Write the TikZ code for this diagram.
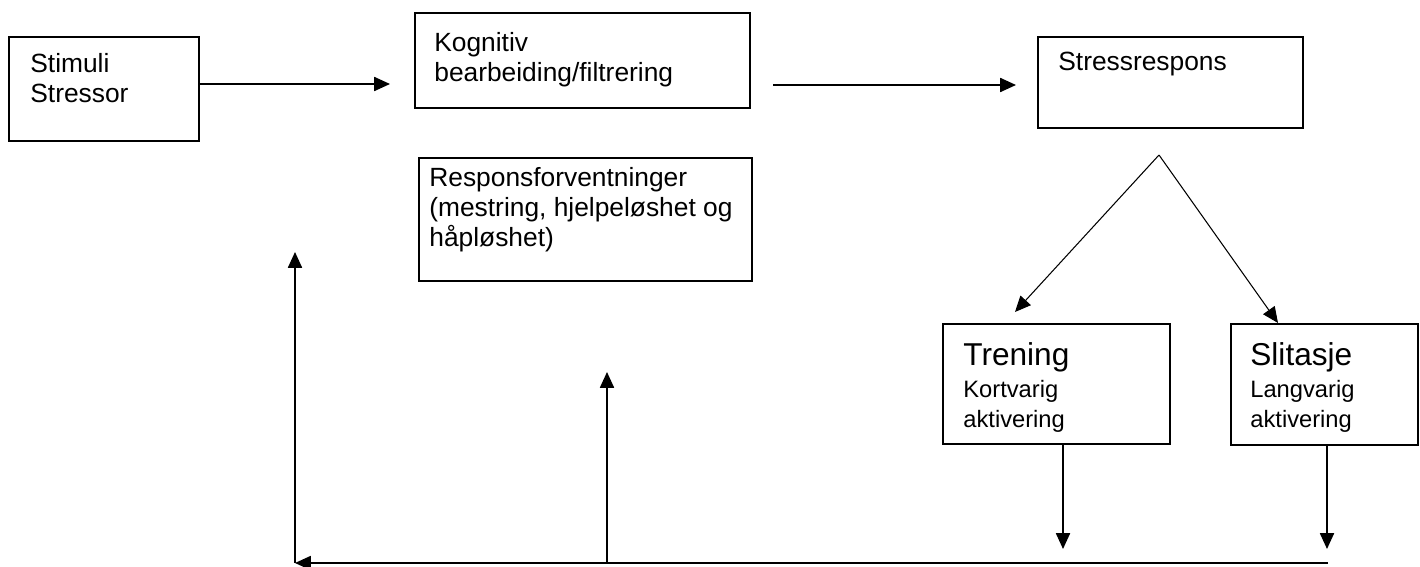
\documentclass[tikz,border=0pt]{standalone}
\usepackage{fontspec}
\setmainfont{Liberation Sans}
\usetikzlibrary{arrows.meta}

\begin{document}
\begin{tikzpicture}[x=0.02cm, y=-0.02cm]
\tikzstyle{box}=[draw, line width=1.2pt, inner sep=0pt]
\tikzstyle{txt}=[anchor=north west, inner sep=0pt, align=left, font=\fontsize{15}{17}\selectfont]
\tikzstyle{pil}=[line width=0.9pt, -{Triangle[length=9pt, width=8pt]}]
\useasboundingbox (0,0) rectangle (1420,567);

% boxes
\node[box, minimum width=3.8cm, minimum height=2.08cm] (stim) at (104,89) {};
\node[box, minimum width=6.7cm, minimum height=1.9cm] (kog) at (582.5,60.5) {};
\node[box, minimum width=5.3cm, minimum height=1.82cm] (stress) at (1170.5,82.5) {};
\node[box, minimum width=6.66cm, minimum height=2.46cm] (resp) at (585.5,219.5) {};
\node[box, minimum width=4.54cm, minimum height=2.4cm] (tren) at (1056.5,384) {};
\node[box, minimum width=3.74cm, minimum height=2.42cm] (slit) at (1324.5,384.5) {};

% texts
\node[txt] (stimtxt) at (30,53) {Stimuli\\Stressor};
\node[txt] (kogtxt) at (434,32) {Kognitiv\\bearbeiding/filtrering};
\node[txt] (stresstxt) at (1058,52) {Stressrespons};
\node[txt] (resptxt) at (429,167) {Responsforventninger\\(mestring, hjelpeløshet og\\håpløshet)};
\node[txt] (trentxt) at (963,342) {\fontsize{18}{21}\selectfont Trening\\[1.5pt]\fontsize{13.5}{15.5}\selectfont Kortvarig\\\fontsize{13.5}{15.5}\selectfont aktivering};
\node[txt] (slittxt) at (1250,342) {\fontsize{18}{21}\selectfont Slitasje\\[1.5pt]\fontsize{13.5}{15.5}\selectfont Langvarig\\\fontsize{13.5}{15.5}\selectfont aktivering};

% free ends
\coordinate (k1) at (390,84);
\coordinate (k2a) at (773,85);
\coordinate (k2b) at (1016,85);
\coordinate (top) at (1159,155);
\coordinate (tl) at (1015,312);
\coordinate (tr) at (1278,323);
\coordinate (d1) at (1063,549);
\coordinate (d2) at (1327,549);
\coordinate (br) at (1328,563);
\coordinate (bl) at (295,563);
\coordinate (bm) at (607,563);
\coordinate (u1) at (295,252);
\coordinate (u2) at (607,372);

\draw[pil] (stim.east |- k1) -- (k1);
\draw[pil] (k2a) -- (k2b);
\draw[pil, line width=0.6pt] (top) -- (tl);
\draw[pil, line width=0.6pt] (top) -- (tr);
\draw[pil] (tren.south -| d1) -- (d1);
\draw[pil] (slit.south -| d2) -- (d2);
\draw[pil] (br) -- (bl);
\draw[pil] (bl) -- (u1);
\draw[pil] (bm) -- (u2);

\end{tikzpicture}
\end{document}
